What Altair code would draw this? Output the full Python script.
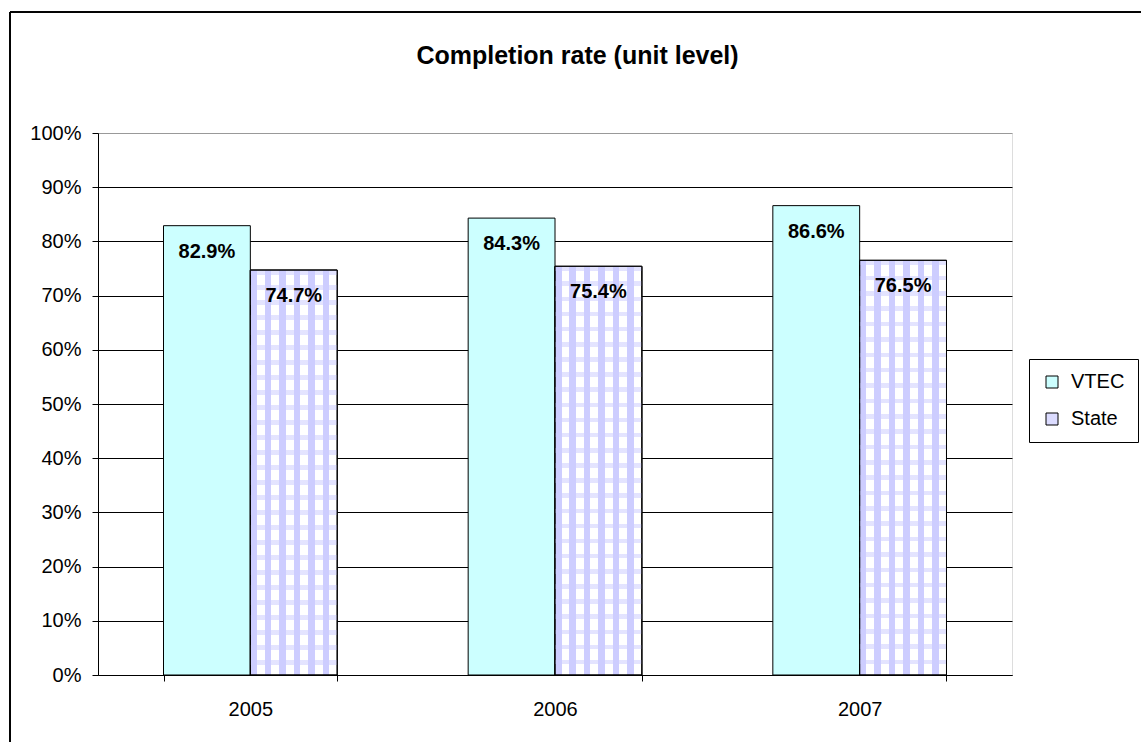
import altair as alt
import pandas as pd

# Completion rates (percent) by year for the two series
years = ["2005", "2006", "2007"]
vtec_rates = [82.9, 84.3, 86.6]
state_rates = [74.7, 75.4, 76.5]
series_names = ["VTEC", "State"]
y_ticks = [0, 10, 20, 30, 40, 50, 60, 70, 80, 90, 100]
chart_title = "Completion rate (unit level)"

rows = []
for i, yr in enumerate(years):
    rows.append({"year": yr, "series": "VTEC", "rate": vtec_rates[i]})
    rows.append({"year": yr, "series": "State", "rate": state_rates[i]})
df = pd.DataFrame(rows)

FONT = "Liberation Sans"
LAVENDER = "#CDCDFF"


def stripe_gradient(periods, share, on, off, vertical):
    """Hard-edged striped linear gradient used to build a gingham fill."""
    stops = []
    for k in range(periods):
        a = k / periods
        b = (k + share) / periods
        c = (k + 1) / periods
        stops += [
            alt.GradientStop(color=on, offset=a),
            alt.GradientStop(color=on, offset=b),
            alt.GradientStop(color=off, offset=b),
            alt.GradientStop(color=off, offset=c),
        ]
    if vertical:
        return alt.Gradient(gradient="linear", stops=stops, x1=0, y1=0, x2=0, y2=1)
    return alt.Gradient(gradient="linear", stops=stops, x1=0, y1=0, x2=1, y2=0)


x_enc = alt.X(
    "year:N",
    sort=years,
    title=None,
    scale=alt.Scale(paddingInner=0.43, paddingOuter=0.215),
    axis=alt.Axis(
        labelAngle=0,
        labelFont=FONT,
        labelFontSize=20,
        labelColor="#000000",
        labelPadding=18,
        tickBand="extent",
        tickSize=6,
        tickColor="#000000",
        domainColor="#000000",
        grid=False,
    ),
)
xoff_enc = alt.XOffset(
    "series:N", sort=series_names, scale=alt.Scale(domain=series_names, paddingInner=0, paddingOuter=0)
)
y_enc = alt.Y(
    "rate:Q",
    title=None,
    scale=alt.Scale(domain=[0, 100], nice=False),
    axis=alt.Axis(
        values=y_ticks,
        labelExpr="datum.value + '%'",
        labelFont=FONT,
        labelFontSize=20,
        labelColor="#000000",
        labelPadding=11,
        tickSize=6,
        tickColor="#000000",
        domainColor="#000000",
        gridColor={
            "condition": {"test": "datum.value >= 100", "value": "#999999"},
            "value": "#000000",
        },
        gridWidth=1,
    ),
)

base = alt.Chart(df)

bars = base.mark_bar(stroke="#000000", strokeWidth=1).encode(
    x=x_enc,
    xOffset=xoff_enc,
    y=y_enc,
    color=alt.Color(
        "series:N",
        sort=series_names,
        scale=alt.Scale(domain=series_names, range=["#CCFFFF", "#DCDCFF"]),
        legend=alt.Legend(
            title=None,
            orient="none",
            legendX=931,
            legendY=226,
            labelFont=FONT,
            labelFontSize=20,
            labelColor="#000000",
            labelOffset=9,
            symbolType="square",
            symbolSize=144,
            symbolStrokeColor="#000000",
            symbolStrokeWidth=1,
            rowPadding=17,
            padding=13,
            strokeColor="#000000",
            fillColor="#FFFFFF",
        ),
    ),
)

state = base.transform_filter(alt.datum.series == "State")

# gingham fill for the State bars: vertical stripes, then a translucent horizontal overlay
state_cols = state.mark_bar(
    fill=stripe_gradient(6, 0.45, LAVENDER, "#FFFFFF", vertical=False),
    stroke="#000000",
    strokeWidth=1,
).encode(x=x_enc, xOffset=xoff_enc, y=y_enc)

state_rows = state.mark_bar(
    fill=stripe_gradient(27, 0.3, "rgba(205,205,255,0.55)", "rgba(255,255,255,0)", vertical=True),
    stroke="#000000",
    strokeWidth=1,
).encode(x=x_enc, xOffset=xoff_enc, y=y_enc)

labels = base.transform_calculate(
    label="format(datum.rate, '.1f') + '%'"
).mark_text(
    font=FONT,
    fontSize=20,
    fontWeight="bold",
    color="#000000",
    baseline="alphabetic",
    align="center",
    dy=32,
).encode(x=x_enc, xOffset=xoff_enc, y=y_enc, text="label:N")

# chart heading, centred on the outer frame
heading = alt.Chart(pd.DataFrame({"t": [chart_title]})).mark_text(
    font=FONT,
    fontSize=25,
    fontWeight="bold",
    color="#000000",
    align="center",
    baseline="alphabetic",
).encode(x=alt.value(479.5), y=alt.value(-69), text="t:N")

# outer chart frame (top and left edges)
frame_top = alt.Chart(df).mark_rule(color="#000000", strokeWidth=1).encode(
    x=alt.value(-88), x2=alt.value(1043), y=alt.value(-121)
)
frame_left = alt.Chart(df).mark_rule(color="#000000", strokeWidth=1).encode(
    x=alt.value(-88), y=alt.value(-121), y2=alt.value(609)
)

chart = (
    alt.layer(bars, state_cols, state_rows, labels, heading, frame_top, frame_left)
    .properties(
        width=914,
        height=542,
        padding={"left": 98, "top": 133, "right": 129, "bottom": 67},
        autosize=alt.AutoSizeParams(type="none"),
    )
    .configure_view(stroke="#808080", strokeWidth=1)
    .configure(background="#FFFFFF")
)

chart.save("out.html", embed_options={"renderer": "svg", "actions": False})
